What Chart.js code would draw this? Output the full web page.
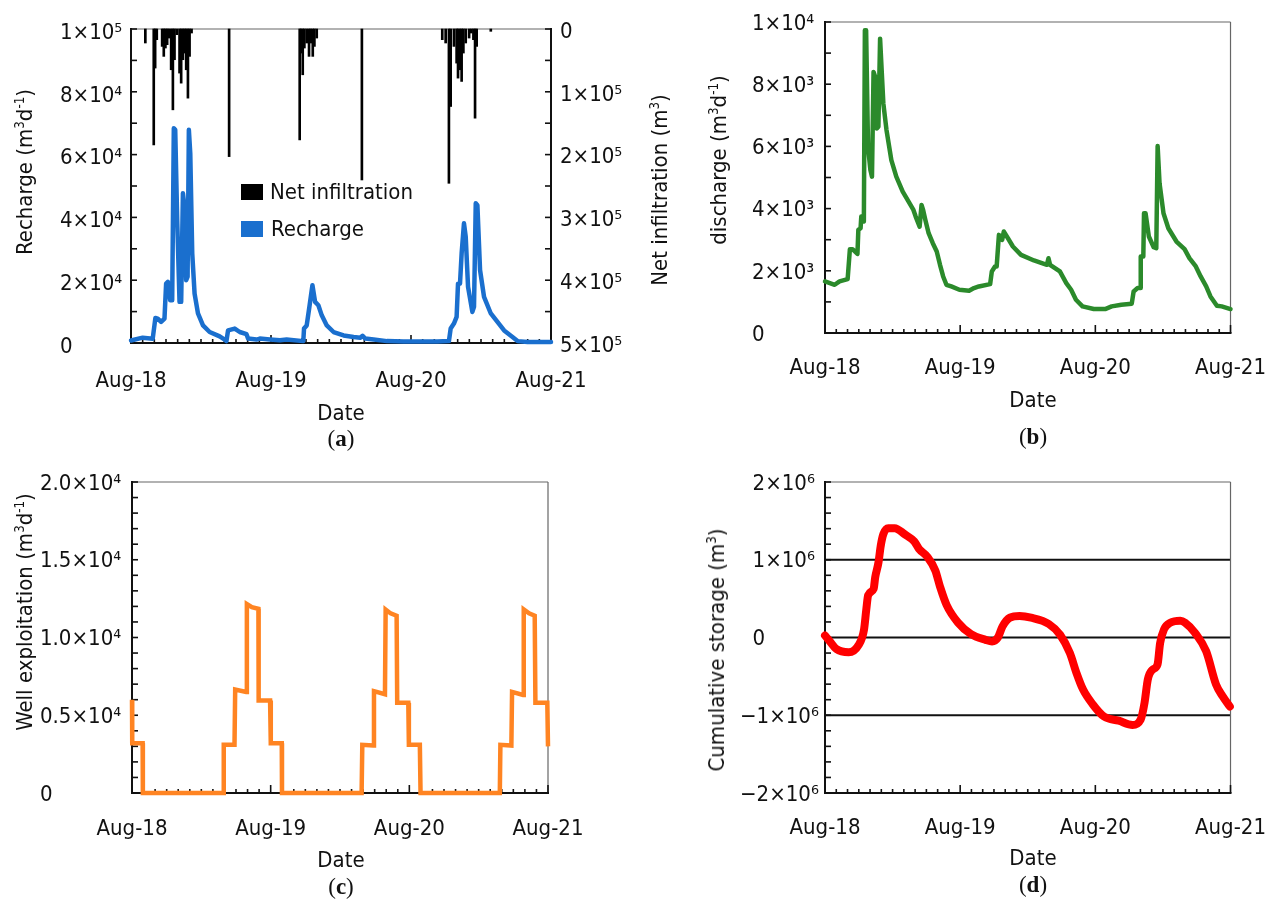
<!DOCTYPE html>
<html>
<head>
<meta charset="utf-8">
<script src="https://cdn.jsdelivr.net/npm/chart.js@4.4.1/dist/chart.umd.min.js"></script>
<style>
  html, body { margin: 0; padding: 0; background: #fff; }
  #page { position: relative; width: 1288px; height: 903px; overflow: hidden; background: #fff; }
  canvas { position: absolute; left: 0; top: 0; }
  .t { position: absolute; font-family: 'DejaVu Sans Condensed', 'DejaVu Sans', sans-serif; font-size: 22px; color: #111; white-space: nowrap; line-height: 1; }
  .h { transform: translate(-50%, -50%); }
  .v { transform: translate(-50%, -50%) rotate(-90deg); }
  .t sup { font-size: 0.6em; vertical-align: 0.6em; line-height: 0; }
  .cap { position: absolute; font-family: 'Liberation Serif', 'DejaVu Serif', serif; font-size: 23px; color: #111; transform: translate(-50%, -50%); white-space: nowrap; }
  .key { position: absolute; width: 22px; height: 16px; }
</style>
</head>
<body>
<div id="page">
  <canvas id="chartA" width="1288" height="903"></canvas>
  <canvas id="chartB" width="1288" height="903"></canvas>
  <canvas id="chartC" width="1288" height="903"></canvas>
  <canvas id="chartD" width="1288" height="903"></canvas>

  <!-- panel (a) -->
  <div class="t v" style="left:25px;top:172px">Recharge (m<sup>3</sup>d<sup>-1</sup>)</div>
  <div class="t v" style="left:660px;top:190px">Net infiltration (m<sup>3</sup>)</div>
  <div class="t h" style="left:341px;top:413px">Date</div>
  <div class="cap" style="left:341px;top:439px">(<b>a</b>)</div>
  <div class="key" style="left:241px;top:184px;background:#000"></div>
  <div class="t" style="left:270px;top:181px">Net infiltration</div>
  <div class="key" style="left:241px;top:221px;background:#1a6fce"></div>
  <div class="t" style="left:271px;top:218px">Recharge</div>

  <!-- panel (b) -->
  <div class="t v" style="left:719px;top:160px">discharge (m<sup>3</sup>d<sup>-1</sup>)</div>
  <div class="t h" style="left:1033px;top:400px">Date</div>
  <div class="cap" style="left:1033px;top:437px">(<b>b</b>)</div>

  <!-- panel (c) -->
  <div class="t v" style="left:25px;top:612px">Well exploitation (m<sup>3</sup>d<sup>-1</sup>)</div>
  <div class="t h" style="left:341px;top:860px">Date</div>
  <div class="cap" style="left:341px;top:887px">(<b>c</b>)</div>

  <!-- panel (d) -->
  <div class="t v" style="left:717px;top:650px">Cumulative storage (m<sup>3</sup>)</div>
  <div class="t h" style="left:1033px;top:858px">Date</div>
  <div class="cap" style="left:1033px;top:885px">(<b>d</b>)</div>
</div>

<script>
// Time axis runs in months from Aug 2018 (0) to Aug 2021 (36)
const yearLabels = ['Aug-18', 'Aug-19', 'Aug-20', 'Aug-21'];

// (a) recharge, m3/d
const rechargeMonths = [0, 1.0, 1.86, 2.09, 2.29, 2.58, 2.87, 3.01, 3.16, 3.36, 3.53, 3.67, 3.79, 3.96, 4.16, 4.30, 4.45, 4.59, 4.73, 4.85, 4.96, 5.08, 5.25, 5.45, 5.74, 6.17, 6.74, 7.60, 8.03, 8.18, 8.32, 8.89, 9.32, 9.90, 10.04, 10.76, 11.04, 11.90, 12.77, 13.34, 14.77, 14.83, 15.06, 15.29, 15.55, 15.78, 16.06, 16.35, 16.78, 17.36, 18.22, 19.08, 19.65, 19.85, 20.08, 20.80, 21.94, 23.38, 24.81, 26.25, 27.25, 27.40, 27.68, 27.91, 28.03, 28.20, 28.34, 28.54, 28.69, 28.89, 29.26, 29.40, 29.55, 29.69, 29.92, 30.26, 30.84, 31.41, 31.98, 32.70, 33.13, 33.99, 36];
const rechargeValues = [800, 1700, 1380, 7980, 7770, 6700, 7770, 18900, 19470, 13600, 13600, 68400, 67900, 39100, 13100, 13100, 47700, 43400, 20000, 21100, 67900, 60400, 28500, 15700, 9400, 5600, 3500, 2100, 1100, 600, 4000, 4600, 3500, 2800, 1400, 1100, 1400, 1100, 850, 1100, 600, 4600, 5600, 11500, 18400, 13100, 12000, 8800, 5600, 3500, 2400, 1900, 1700, 2300, 1400, 1100, 600, 500, 500, 500, 600, 4600, 6200, 8300, 18900, 18900, 28500, 38100, 33800, 17900, 9900, 11500, 44500, 43900, 23200, 14700, 9400, 6700, 4000, 1900, 600, 300, 300];

// (a) net infiltration events, m3
const infMonths = [1.23, 1.95, 2.07, 2.21, 2.67, 2.81, 2.95, 3.10, 3.24, 3.44, 3.59, 3.73, 3.93, 4.16, 4.30, 4.45, 4.59, 4.73, 4.88, 5.02, 5.19, 8.41, 14.46, 14.57, 14.72, 14.86, 15.06, 15.26, 15.40, 15.58, 15.72, 15.92, 19.79, 26.68, 26.97, 27.25, 27.40, 27.68, 27.91, 28.03, 28.20, 28.34, 28.49, 28.69, 28.98, 29.17, 29.35, 29.49, 29.63, 30.84];
const infValues = [22300, 184600, 62200, 17000, 27700, 43600, 30300, 25000, 14400, 64900, 128700, 48900, 9000, 70200, 86200, 48900, 38300, 64900, 110100, 43600, 6400, 203200, 176600, 38300, 72900, 30300, 22300, 43600, 22300, 43600, 27700, 14400, 240400, 17000, 22300, 245700, 123400, 27700, 54300, 78200, 64900, 83500, 38300, 22300, 14400, 6400, 17000, 142000, 27700, 3700];

// (b) discharge, m3/d
const dischargeMonths = [0, 0.86, 1.29, 2.01, 2.21, 2.44, 2.88, 2.96, 3.16, 3.22, 3.36, 3.45, 3.54, 3.65, 3.82, 4.03, 4.17, 4.31, 4.46, 4.60, 4.74, 4.89, 5.03, 5.18, 5.46, 5.89, 6.33, 6.90, 7.33, 7.85, 8.05, 8.40, 8.57, 8.71, 8.91, 9.20, 9.57, 9.92, 10.21, 10.49, 10.78, 11.21, 11.93, 12.79, 13.23, 13.66, 14.66, 14.81, 15.09, 15.24, 15.44, 15.61, 15.73, 15.87, 16.24, 16.68, 17.40, 18.55, 19.70, 19.84, 19.98, 20.85, 21.42, 21.85, 22.28, 22.86, 23.86, 24.87, 25.45, 26.31, 27.23, 27.40, 27.75, 27.98, 28.03, 28.26, 28.32, 28.46, 28.75, 29.18, 29.41, 29.53, 29.70, 30.05, 30.48, 31.20, 31.92, 32.35, 32.92, 33.35, 33.84, 34.22, 34.79, 35.22, 36];
const dischargeValues = [1658, 1551, 1658, 1733, 2695, 2695, 2545, 3316, 3369, 3743, 3722, 3583, 9733, 9733, 5989, 5241, 5027, 8396, 8235, 6578, 6631, 9465, 8449, 7380, 6524, 5561, 5027, 4545, 4278, 3957, 3743, 3422, 4118, 3957, 3636, 3209, 2888, 2620, 2193, 1818, 1551, 1497, 1390, 1358, 1444, 1497, 1572, 1979, 2139, 2139, 3155, 3102, 2995, 3262, 3048, 2781, 2513, 2332, 2193, 2406, 2193, 1979, 1604, 1390, 1070, 856, 770, 770, 856, 909, 941, 1337, 1444, 1444, 2460, 2460, 3850, 3850, 3102, 2759, 2727, 6011, 4813, 3850, 3369, 2941, 2695, 2406, 2139, 1818, 1497, 1176, 877, 856, 770];

// (c) well exploitation, m3/d (monthly pumping steps)
const wellMonths = [0, 0.02, 0.92, 0.94, 7.92, 7.94, 8.87, 8.93, 9.88, 9.94, 10.37, 10.94, 10.96, 11.95, 12.01, 12.96, 12.98, 19.87, 19.93, 20.88, 20.94, 21.89, 21.95, 22.38, 22.90, 22.95, 23.91, 23.96, 24.91, 24.97, 31.83, 31.88, 32.83, 32.89, 33.84, 33.90, 34.36, 34.85, 34.91, 35.94, 36];
const wellValues = [6000, 3200, 3200, 0, 0, 3100, 3100, 6650, 6500, 12150, 11950, 11850, 5950, 5950, 3200, 3200, 0, 0, 3100, 3050, 6550, 6350, 11800, 11550, 11400, 5800, 5800, 3100, 3100, 0, 0, 3100, 3050, 6500, 6300, 11800, 11550, 11400, 5800, 5800, 3000];

// (d) cumulative storage, m3
const storageMonths = [0, 0.43, 1.01, 2.10, 2.97, 3.46, 3.66, 3.83, 4.32, 4.46, 4.75, 4.95, 5.18, 5.62, 6.19, 7.06, 7.92, 8.35, 9.07, 9.79, 10.22, 10.80, 11.81, 12.96, 14.26, 14.83, 15.35, 15.75, 16.42, 17.28, 18.29, 19.87, 20.88, 21.74, 22.32, 22.90, 23.76, 24.77, 26.07, 27.30, 28.02, 28.37, 28.66, 29.09, 29.52, 29.75, 30.10, 30.67, 31.54, 31.97, 32.83, 33.84, 34.71, 35.28, 35.94];
const storageValues = [25000, -50000, -149000, -190000, -100000, 98000, 352000, 544000, 628000, 777000, 968000, 1180000, 1329000, 1406000, 1406000, 1329000, 1236000, 1138000, 1040000, 862000, 650000, 416000, 191000, 42000, -30000, -50000, 0, 140000, 255000, 276000, 255000, 174000, 34000, -200000, -454000, -667000, -858000, -1017000, -1070000, -1125000, -1057000, -837000, -539000, -412000, -348000, -72000, 106000, 191000, 217000, 191000, 64000, -178000, -603000, -752000, -887000];

// Tick labels (non-negative storage labels start with a figure space so digits line up after the minus signs)
const rechargeTicks = ['0', '2×10⁴', '4×10⁴', '6×10⁴', '8×10⁴', '1×10⁵'];
const infTicks = ['0', '1×10⁵', '2×10⁵', '3×10⁵', '4×10⁵', '5×10⁵'];
const dischargeTicks = ['0', '2×10³', '4×10³', '6×10³', '8×10³', '1×10⁴'];
const wellTicks = ['0', '0.5×10⁴', '1.0×10⁴', '1.5×10⁴', '2.0×10⁴'];
const storageTicks = ['−2×10⁶', '−1×10⁶', '\u20070', '\u20071×10⁶', '\u20072×10⁶'];

const FONT = "'DejaVu Sans Condensed', 'DejaVu Sans', sans-serif";
Chart.defaults.font.family = FONT;
Chart.defaults.font.size = 22;
Chart.defaults.color = '#111';
Chart.defaults.animation = false;

const pts = (xs, ys) => xs.map((x, i) => ({ x, y: ys[i] }));

// Frame, inward tick marks and reference lines, drawn through the chart's scales
const frameTicks = {
  id: 'frameTicks',
  beforeDatasetsDraw(chart, args, o) {
    const { ctx, chartArea: a, scales } = chart;
    const seg = (x1, y1, x2, y2) => { ctx.beginPath(); ctx.moveTo(x1, y1); ctx.lineTo(x2, y2); ctx.stroke(); };
    ctx.save();
    ctx.lineCap = 'butt';
    // horizontal reference lines
    if (o.gridAt) {
      ctx.strokeStyle = '#111'; ctx.lineWidth = 2;
      o.gridAt.forEach(v => { const p = scales.y.getPixelForValue(v); seg(a.left, p, a.right, p); });
    }
    // outer box
    ctx.strokeStyle = '#666'; ctx.lineWidth = 1.2;
    seg(a.left, a.top, a.right, a.top);
    seg(a.right, a.top, a.right, a.bottom);
    ctx.strokeStyle = '#111'; ctx.lineWidth = 2;
    seg(a.left, a.top - 1, a.left, a.bottom + 1);
    seg(a.left - 1, a.bottom, a.right + 1, a.bottom);
    if (o.y2Step) seg(a.right, a.top - 1, a.right, a.bottom + 1);
    // left axis ticks
    ctx.lineWidth = 1.6;
    const y = scales.y;
    for (let v = y.min; v <= y.max + o.yStep * 1e-6; v += o.yStep) {
      const p = y.getPixelForValue(v); seg(a.left, p, a.left + 6, p);
    }
    if (o.y2Step) {
      const y2 = scales.y2;
      for (let v = y2.min; v <= y2.max + o.y2Step * 1e-6; v += o.y2Step) {
        const p = y2.getPixelForValue(v); seg(a.right, p, a.right - 6, p);
      }
    }
    // monthly ticks on the time axis, longer at each year
    const x = scales.x;
    for (let m = x.min; m <= x.max; m += 1) {
      const p = x.getPixelForValue(m);
      seg(p, a.bottom, p, a.bottom - (m % 12 === 0 ? 8 : 4));
    }
    ctx.restore();
  }
};

function timeAxis(pad) {
  return {
    type: 'linear', min: 0, max: 36, offset: false,
    grid: { display: false, drawTicks: false }, border: { display: false },
    ticks: { stepSize: 12, autoSkip: false, maxRotation: 0, minRotation: 0, padding: pad,
             callback: v => yearLabels[Math.round(v / 12)] },
    afterFit: s => { s.height = 60; }
  };
}

function valueAxis(min, max, step, labels, width, shift) {
  return {
    position: 'left', min, max,
    grid: { display: false, drawTicks: false }, border: { display: false },
    ticks: { stepSize: step, crossAlign: 'far', padding: 0, labelOffset: shift, autoSkip: false,
             callback: v => labels[Math.round((v - min) / step)] },
    afterFit: s => { s.width = width; }
  };
}

function baseOptions(area, labelLeft, rightPad, scales, ticksOpt) {
  return {
    responsive: false, animation: false,
    layout: { padding: { left: labelLeft, top: area.t, right: rightPad, bottom: 903 - area.b - 60 } },
    plugins: { legend: { display: false }, tooltip: { enabled: false }, frameTicks: ticksOpt },
    elements: { point: { radius: 0 } },
    scales
  };
}

// (a) recharge with net infiltration on a reversed right axis
const areaA = { l: 131, t: 29, r: 551, b: 343 };
const yA = valueAxis(0, 100000, 20000, rechargeTicks, areaA.l - 60, 4);
const y2A = {
  position: 'right', reverse: true, min: 0, max: 500000,
  grid: { display: false, drawTicks: false }, border: { display: false },
  ticks: { stepSize: 100000, crossAlign: 'near', padding: 9, labelOffset: 3, autoSkip: false,
           callback: v => infTicks[Math.round(v / 100000)] },
  afterFit: s => { s.width = 120; }
};
new Chart(document.getElementById('chartA'), {
  type: 'line',
  data: {
    datasets: [
      { type: 'line', label: 'Recharge', data: pts(rechargeMonths, rechargeValues), yAxisID: 'y',
        borderColor: '#1a6fce', borderWidth: 4.5, tension: 0, pointRadius: 0, order: 0, clip: 6,
        borderJoinStyle: 'round', borderCapStyle: 'round' },
      { type: 'bar', label: 'Net infiltration', data: pts(infMonths, infValues), yAxisID: 'y2',
        backgroundColor: '#000', barThickness: 2, order: 1, clip: 2 }
    ]
  },
  options: baseOptions(areaA, 60, 1288 - areaA.r - 120,
    { x: timeAxis(25), y: yA, y2: y2A }, { yStep: 10000, y2Step: 50000 }),
  plugins: [frameTicks]
});

// (b) discharge
const areaB = { l: 825, t: 22, r: 1242, b: 333 };
new Chart(document.getElementById('chartB'), {
  type: 'line',
  data: { datasets: [{ label: 'discharge', data: pts(dischargeMonths, dischargeValues),
    borderColor: '#2b8a2b', borderWidth: 4.5, tension: 0, pointRadius: 0, clip: 6,
    borderJoinStyle: 'round', borderCapStyle: 'round' }] },
  options: baseOptions(areaB, 752, 1288 - areaB.r,
    { x: timeAxis(22), y: valueAxis(0, 10000, 2000, dischargeTicks, areaB.l - 752, 2) }, { yStep: 1000 }),
  plugins: [frameTicks]
});

// (c) well exploitation
const areaC = { l: 132, t: 482, r: 548, b: 793 };
new Chart(document.getElementById('chartC'), {
  type: 'line',
  data: { datasets: [{ label: 'Well exploitation', data: pts(wellMonths, wellValues),
    borderColor: '#ff8422', borderWidth: 4.5, tension: 0, pointRadius: 0, clip: 6,
    borderJoinStyle: 'miter', borderCapStyle: 'butt' }] },
  options: baseOptions(areaC, 40, 1288 - areaC.r,
    { x: timeAxis(23), y: valueAxis(0, 20000, 5000, wellTicks, areaC.l - 40, 2) }, { yStep: 1000 }),
  plugins: [frameTicks]
});

// (d) cumulative storage
const areaD = { l: 825, t: 482, r: 1242, b: 793 };
new Chart(document.getElementById('chartD'), {
  type: 'line',
  data: { datasets: [{ label: 'Cumulative storage', data: pts(storageMonths, storageValues),
    borderColor: '#ff0000', borderWidth: 8, tension: 0, cubicInterpolationMode: 'monotone', pointRadius: 0, clip: 8,
    borderJoinStyle: 'round', borderCapStyle: 'round' }] },
  options: baseOptions(areaD, 740, 1288 - areaD.r,
    { x: timeAxis(22), y: valueAxis(-2000000, 2000000, 1000000, storageTicks, areaD.l - 740, 2) },
    { yStep: 200000, gridAt: [-1000000, 0, 1000000] }),
  plugins: [frameTicks]
});
</script>
</body>
</html>
